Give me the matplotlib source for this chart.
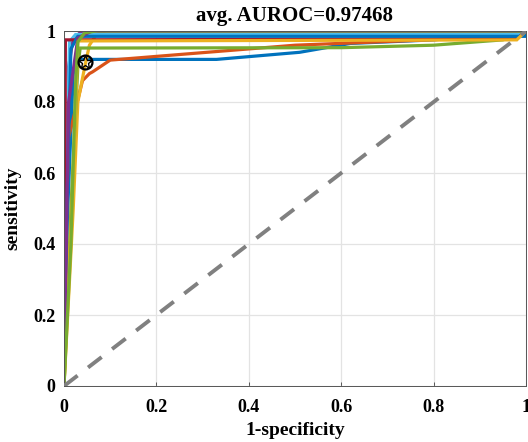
import matplotlib

matplotlib.use("Agg")
import matplotlib.pyplot as plt

# MATLAB default line colours
BLUE, ORANGE, YELLOW = "#0072BD", "#D95319", "#EDB120"
PURPLE, GREEN, LBLUE, DRED = "#7E2F8E", "#77AC30", "#4DBEEE", "#A2142F"

# per-fold ROC curves (fpr, tpr)
fpr_1 = [0, 0.005, 0.02, 0.03, 0.33, 0.51, 0.62, 0.8, 1.0]
tpr_1 = [0, 0.40, 0.88, 0.92, 0.92, 0.94, 0.965, 0.975, 1.0]
fpr_2 = [0, 0.003, 0.01, 0.04, 0.055, 0.062, 0.1, 0.5, 0.98, 1.0]
tpr_2 = [0, 0.35, 0.70, 0.86, 0.88, 0.885, 0.918, 0.96, 0.985, 1.0]
fpr_3 = [0, 0.02, 0.03, 0.045, 0.055, 0.07, 0.09, 1.0]
tpr_3 = [0, 0.50, 0.80, 0.90, 0.96, 0.99, 1.0, 1.0]
fpr_4 = [0, 0.01, 0.02, 0.04, 1.0]
tpr_4 = [0, 0.90, 0.98, 1.0, 1.0]
fpr_5 = [0, 0.015, 0.03, 0.035, 0.6, 0.8, 0.95, 1.0]
tpr_5 = [0, 0.50, 0.90, 0.952, 0.953, 0.96, 0.975, 1.0]
fpr_6 = [0, 0.004, 0.012, 0.025, 1.0, 1.0]
tpr_6 = [0, 0.50, 0.97, 0.99, 0.99, 1.0]
fpr_7 = [0, 0.003, 0.98, 1.0]
tpr_7 = [0, 0.975, 0.978, 1.0]
fpr_8 = [0, 0.008, 0.015, 0.03, 1.0, 1.0]
tpr_8 = [0, 0.60, 0.95, 0.985, 0.985, 1.0]
fpr_9 = [0, 0.02, 0.03, 0.98, 1.0]
tpr_9 = [0, 0.60, 0.972, 0.975, 1.0]
fpr_10 = [0, 0.01, 0.03, 0.06, 1.0]
tpr_10 = [0, 0.80, 0.98, 1.0, 1.0]
fpr_11 = [0, 0.015, 0.025, 0.03, 0.045, 0.07, 1.0]
tpr_11 = [0, 0.40, 0.85, 0.97, 0.995, 1.0, 1.0]

curves = [
    (fpr_1, tpr_1, BLUE), (fpr_2, tpr_2, ORANGE), (fpr_3, tpr_3, YELLOW),
    (fpr_4, tpr_4, PURPLE), (fpr_5, tpr_5, GREEN), (fpr_6, tpr_6, LBLUE),
    (fpr_7, tpr_7, DRED), (fpr_8, tpr_8, BLUE), (fpr_9, tpr_9, YELLOW),
    (fpr_10, tpr_10, PURPLE), (fpr_11, tpr_11, GREEN),
]

# operating point
op_fpr, op_tpr = 0.045, 0.912
avg_auroc = 0.97468

ticks = [0, 0.2, 0.4, 0.6, 0.8, 1]
tick_labels = ["0", "0.2", "0.4", "0.6", "0.8", "1"]

plt.rcParams.update({
    "font.family": "Liberation Serif",
    "font.weight": "bold",
    "font.size": 13,
})

fig = plt.figure(figsize=(5.28, 4.42), dpi=100)
ax = fig.add_axes([64 / 528, 56 / 442, 462 / 528, 355 / 442])

for x, y, c in curves:
    ax.plot(x, y, color=c, linewidth=2.3, solid_joinstyle="miter")

ax.plot([0, 1], [0, 1], color="#808080", linewidth=2.8,
        dashes=(4.4, 3.4), zorder=4)
ax.plot(op_fpr, op_tpr, "o", markersize=10, markerfacecolor="none",
        markeredgecolor="black", markeredgewidth=1.6, zorder=5)
ax.plot(op_fpr, op_tpr, "*", markersize=10, markerfacecolor="none",
        markeredgecolor="black", markeredgewidth=1.0, zorder=5)

ax.set_xlim(0, 1)
ax.set_ylim(0, 1)
ax.set_xticks(ticks, tick_labels)
ax.set_yticks(ticks, tick_labels)
ax.tick_params(direction="in", length=3, width=0.6, color="#404040",
               labelsize=13, pad=6)
ax.tick_params(axis="x", pad=9)
ax.grid(True, color="#e3e3e3", linewidth=0.9)
ax.set_axisbelow(True)
for s in ax.spines.values():
    s.set_color("#555555")
    s.set_linewidth(0.7)

ax.set_xlabel("1-specificity", fontsize=14, fontweight="bold", labelpad=5)
ax.set_ylabel("sensitivity", fontsize=14, fontweight="bold", labelpad=9)
ax.set_title(f"avg. AUROC={avg_auroc}", fontsize=15, fontweight="bold", pad=7)

fig.savefig("out.png", dpi=100)
